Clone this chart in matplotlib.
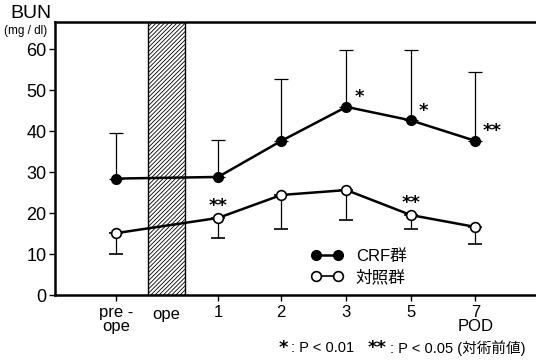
import matplotlib.pyplot as plt
from matplotlib.patches import Rectangle
from matplotlib.lines import Line2D

plt.rcParams['font.family'] = ['Liberation Sans', 'Noto Sans CJK JP']
plt.rcParams['hatch.color'] = '#555555'
plt.rcParams['hatch.linewidth'] = 0.6

# x positions for pre-ope, 1, 2, 3, 5, 7
pos = [0, 1.58, 2.56, 3.57, 4.57, 5.57]
tick_labels = ['pre -\nope', '1', '2', '3', '5', '7\nPOD']

crf = [28.4, 28.8, 37.6, 45.9, 42.6, 37.6]
crf_sd = [11.1, 8.9, 15.1, 13.9, 17.2, 16.8]
ctrl = [15.1, 18.8, 24.4, 25.6, 19.5, 16.6]
ctrl_sd = [5.1, 4.9, 8.3, 7.3, 3.4, 4.2]

crf_sig = ['', '', '', '*', '*', '**']
ctrl_sig = ['', '**', '', '', '**', '']

fig = plt.figure(figsize=(5.36, 3.64), dpi=100)
ax = fig.add_axes([55 / 536, 69 / 364, 490 / 536, 273 / 364])

# operation band
ax.add_patch(Rectangle((0.5, 0), 0.57, 70, facecolor='white', edgecolor='black',
                       hatch='////////', linewidth=1.0, zorder=1))

ax.errorbar(pos, crf, yerr=[[0] * 6, crf_sd], fmt='-o', color='black', lw=1.8,
            ms=7, mfc='black', mec='black', elinewidth=0.9, capsize=5,
            capthick=0.9, zorder=3)
ax.errorbar(pos, ctrl, yerr=[ctrl_sd, [0] * 6], fmt='-o', color='black', lw=1.8,
            ms=7, mfc='white', mec='black', mew=1.2, elinewidth=0.9, capsize=5,
            capthick=0.9, zorder=3)

ast_font = dict(family='DejaVu Sans', fontsize=13, fontweight='bold')
for x, y, s in zip(pos, crf, crf_sig):
    if s:
        ax.text(x + 0.12, y + 0.2, s, ha='left', va='bottom', **ast_font)
for x, y, s in zip(pos, ctrl, ctrl_sig):
    if s:
        ax.text(x, y + 0.8, s, ha='center', va='bottom', **ast_font)

ax.set_xlim(-0.95, 6.65)
ax.set_ylim(0, 66.6)
ax.set_yticks([0, 10, 20, 30, 40, 50, 60])
ax.set_xticks(pos)
ax.set_xticklabels(tick_labels, fontsize=12, linespacing=0.9)
ax.tick_params(axis='y', labelsize=13, length=4, width=1, direction='out', pad=2)
ax.tick_params(axis='x', length=4, width=1, direction='out', pad=3)
ax.text(0.78, -2.9, 'ope', fontsize=12, ha='center', va='top')

for side in ['left', 'bottom', 'top']:
    ax.spines[side].set_linewidth(1.8)
ax.spines['right'].set_visible(False)

handles = [
    Line2D([], [], color='black', lw=1.8, marker='o', ms=7, mfc='black', mec='black'),
    Line2D([], [], color='black', lw=1.2, marker='o', ms=7, mfc='white', mec='black', mew=1.2),
]
ax.legend(handles, ['CRF群', '対照群'], loc='center left', numpoints=2,
          bbox_to_anchor=(311 / 536, 1 - 267 / 364), bbox_transform=fig.transFigure,
          frameon=False, fontsize=12, handlelength=1.9, handletextpad=0.8,
          labelspacing=0.3, borderpad=0, borderaxespad=0)

fig.text(10 / 536, 1 - 13 / 364, 'BUN', fontsize=14, va='center', ha='left')
fig.text(4 / 536, 1 - 31 / 364, '(mg / dl)', fontsize=8.5, va='center', ha='left')

# footnote
fy = 1 - 348 / 364
fig.text(279 / 536, fy, '*', va='center', ha='left', **ast_font)
fig.text(291 / 536, fy, ': P < 0.01', fontsize=10.5, va='center', ha='left')
fig.text(368 / 536, fy, '**', va='center', ha='left', **ast_font)
fig.text(390 / 536, fy, ': P < 0.05 (対術前値)', fontsize=10.5, va='center', ha='left')

fig.savefig('out.png', dpi=100)
